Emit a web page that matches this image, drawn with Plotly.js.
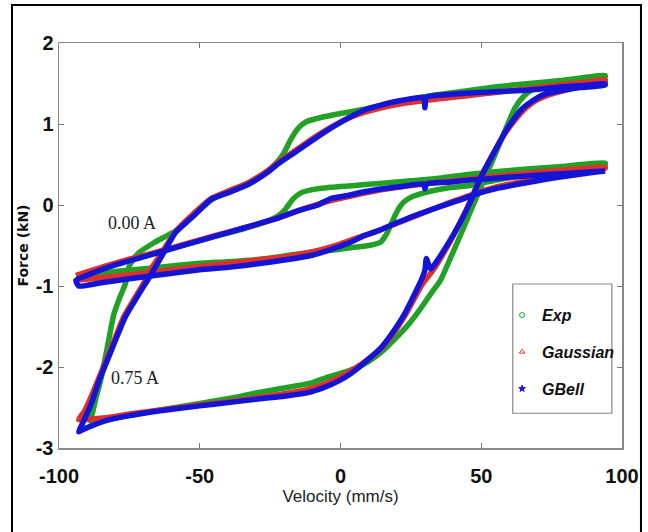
<!DOCTYPE html>
<html>
<head>
<meta charset="utf-8">
<script src="https://cdn.plot.ly/plotly-3.0.1.min.js"></script>
<style>
html,body{margin:0;padding:0;background:#fff;}
#chart{width:648px;height:532px;}
</style>
</head>
<body>
<div id="chart"></div>
<script>
// ---------- Data: 0.75 A loop ----------
const expX075 = [-88.8,-88,-87,-85.3,-82.9,-80.6,-78.5,-76.4,-75,-72,-66,-58.6,-52,-46,-40,-33,-26,-22.5,-20,-17.5,-15,-12,-7,0,8,20,32,45,55.6,67,79,88,94,
  94,85,75,68,65,62,58,55,51,47,43,39,35.5,32,28,24,20,15,10,5,0,-5,-10.7,-20,-30,-38,-50,-64,-75,-82,-86,-88.8];
const expY075 = [-2.67,-2.55,-2.4,-2.18,-1.77,-1.36,-1.15,-0.97,-0.75,-0.6,-0.46,-0.32,-0.12,0.06,0.17,0.27,0.42,0.53,0.65,0.82,0.95,1.03,1.08,1.13,1.18,1.27,1.35,1.41,1.46,1.5,1.54,1.58,1.6,
  1.58,1.53,1.47,1.42,1.34,1.2,0.88,0.63,0.31,-0.01,-0.34,-0.66,-0.93,-1.1,-1.3,-1.48,-1.63,-1.8,-1.93,-2.02,-2.08,-2.13,-2.2,-2.26,-2.32,-2.38,-2.45,-2.53,-2.6,-2.64,-2.67,-2.67];

const gauX075 = [-93,-91,-89,-86,-81.5,-77,-70,-67.5,-63,-58.6,-52,-46,-40,-33,-26,-22.5,-16.6,-9.5,-2.4,4.7,10,20,30,40,50,60,70,80,88,94,
  94,85,76,70,66,62,58,54,50,46.5,43,38.5,33,29,23,18.5,14.5,10,5,0,-5,-12,-20,-28,-40,-50,-64,-75,-82,-88,-93];
const gauY075 = [-2.65,-2.55,-2.4,-2.15,-1.77,-1.38,-0.97,-0.8,-0.56,-0.33,-0.1,0.08,0.17,0.27,0.42,0.52,0.66,0.83,0.98,1.1,1.16,1.24,1.29,1.33,1.37,1.41,1.45,1.49,1.52,1.55,
  1.52,1.46,1.38,1.3,1.2,1.05,0.86,0.62,0.36,0.08,-0.18,-0.48,-0.8,-0.98,-1.36,-1.6,-1.77,-1.9,-2.02,-2.12,-2.2,-2.28,-2.33,-2.37,-2.43,-2.47,-2.53,-2.58,-2.62,-2.64,-2.65];

const gbeX075 = [-93,-91,-88.5,-85.9,-81.1,-76.4,-69.3,-67.5,-63,-58.6,-52,-46,-40,-33,-26,-22.5,-16.6,-9.5,-2.4,4.7,8.3,14,20,27,29.5,30,30.5,37,44,56,67,79,88,94,
  94,85,78,72,68,64,59,54.4,49.6,46,42.6,37.8,32,30.5,30,28.4,22.5,18,14.2,10,6,2,-3.5,-10.7,-20,-28,-40,-50,-64,-75,-82,-88,-92,-93];
const gbeY075 = [-2.8,-2.65,-2.45,-2.18,-1.77,-1.38,-0.97,-0.87,-0.6,-0.34,-0.13,0.07,0.15,0.25,0.4,0.5,0.64,0.81,0.97,1.11,1.17,1.23,1.28,1.32,1.33,1.2,1.33,1.36,1.38,1.4,1.42,1.46,1.48,1.5,
  1.48,1.45,1.41,1.36,1.28,1.17,0.93,0.64,0.32,0.03,-0.21,-0.5,-0.79,-0.66,-0.8,-0.95,-1.36,-1.6,-1.77,-1.9,-2.02,-2.12,-2.22,-2.31,-2.36,-2.39,-2.44,-2.48,-2.54,-2.6,-2.65,-2.72,-2.78,-2.8];

// ---------- Data: 0.00 A loop ----------
const expX000 = [-93,-85,-75,-65,-55,-45,-35,-26,-22,-19.5,-17,-14,-10,-3.5,5,15,25,35,46,55,65,80,94,
  94,80,62.7,50,46,38,31.9,26,23,21.3,19.5,17.7,16,14.2,10,3,-3.5,-10,-20,-28.4,-40,-50,-65,-80,-93];
const expY000 = [-0.87,-0.78,-0.68,-0.58,-0.49,-0.39,-0.3,-0.2,-0.13,-0.05,0.07,0.15,0.19,0.22,0.24,0.27,0.3,0.33,0.38,0.41,0.44,0.48,0.52,
  0.49,0.42,0.35,0.27,0.24,0.21,0.17,0.11,0.05,-0.01,-0.12,-0.26,-0.38,-0.46,-0.5,-0.53,-0.56,-0.58,-0.63,-0.67,-0.7,-0.72,-0.77,-0.82,-0.87];

const gauX000 = [-94,-85,-75,-65,-55,-45,-35,-25,-15,-5,5,15,25,35,46,60,75,94,
  94,80,65,55,46,38,30,22,14,8,0,-8,-20,-35,-50,-65,-80,-94];
const gauY000 = [-0.87,-0.77,-0.67,-0.58,-0.48,-0.38,-0.29,-0.19,-0.07,0.04,0.12,0.19,0.24,0.28,0.32,0.37,0.42,0.47,
  0.45,0.38,0.29,0.22,0.12,0.02,-0.09,-0.2,-0.31,-0.38,-0.48,-0.56,-0.64,-0.7,-0.76,-0.82,-0.88,-0.93];

const gbeX000 = [-94,-88,-80,-70,-60,-50,-40,-30,-22,-15,-8,-3.5,3,8,15,22,29.5,30,30.5,38,46,55,62,75,85,94,
  94,85,75,62,55,49.6,41.4,32,25,20,14,8.3,3,-3.5,-10,-20,-28,-40,-50,-64,-75,-85,-93,-94];
const gbeY000 = [-0.93,-0.84,-0.74,-0.64,-0.54,-0.44,-0.34,-0.24,-0.16,-0.07,0.0,0.08,0.12,0.16,0.2,0.23,0.26,0.2,0.26,0.28,0.31,0.33,0.35,0.38,0.4,0.42,
  0.42,0.38,0.33,0.25,0.2,0.15,0.05,-0.06,-0.15,-0.22,-0.31,-0.38,-0.47,-0.55,-0.62,-0.68,-0.72,-0.77,-0.8,-0.86,-0.91,-0.96,-1.0,-0.93];

const seriesNames = ['Exp','Gaussian','GBell'];
const loopLabels = ['0.00 A','0.75 A'];
const labelX = [-74,-73];
const labelY = [-0.225,-2.13];

const xTickVals = [-100,-50,0,50,100];
const yTickVals = [-3,-2,-1,0,1,2];

// ---------- Styles ----------
const colors = ['#23a127','#e0302c','#1414d6'];
const symbols = ['circle-open','triangle-up-open','star'];

const loops = [
  [[expX075,expY075],[gauX075,gauY075],[gbeX075,gbeY075]],
  [[expX000,expY000],[gauX000,gauY000],[gbeX000,gbeY000]]
];

const traces = [];
for (let s = 0; s < 3; s++) {
  for (let l = 0; l < 2; l++) {
    traces.push({
      x: loops[l][s][0], y: loops[l][s][1],
      type: 'scatter', mode: 'lines',
      line: {color: colors[s], width: 5.5, shape: 'spline', smoothing: 0.5},
      showlegend: false, hoverinfo: 'skip'
    });
  }
}
for (let s = 0; s < 3; s++) {
  traces.push({
    x: [null], y: [null], type: 'scatter', mode: 'markers',
    name: seriesNames[s], legendgroup: 'g' + s,
    marker: {symbol: symbols[s], size: 5, color: colors[s], line: {color: colors[s], width: 1}}
  });
}

const tickFont = {family: '"Liberation Sans Narrow", "Liberation Sans", Arial, sans-serif', size: 20, color: '#111', weight: 'bold'};

const layout = {
  width: 648, height: 532,
  margin: {l: 59, r: 26, t: 43, b: 84},
  paper_bgcolor: '#fff', plot_bgcolor: '#fff',
  showlegend: true,
  legend: {
    x: 0.787, y: 0.37, xanchor: 'left', yanchor: 'top',
    borderwidth: 0, bgcolor: 'rgba(0,0,0,0)', itemwidth: 30,
    font: {family: '"Liberation Sans", Arial, sans-serif', size: 16, color: '#111', weight: 'bold', style: 'italic'},
    traceorder: 'grouped', tracegroupgap: 13
  },
  xaxis: {
    range: [-100, 100], tickvals: xTickVals, ticktext: xTickVals.map(String),
    ticks: 'inside', ticklen: 5, tickcolor: '#777', mirror: 'ticks',
    showline: true, linecolor: '#888', linewidth: 1.5, ticklabelstandoff: 9,
    showgrid: false, zeroline: false, tickfont: tickFont,
    title: {text: 'Velocity (mm/s)', font: {family: '"Liberation Sans Narrow", "Liberation Sans", Arial, sans-serif', size: 17, color: '#222'}, standoff: 4}
  },
  yaxis: {
    range: [-3, 2], tickvals: yTickVals, ticktext: yTickVals.map(String),
    ticks: 'inside', ticklen: 5, tickcolor: '#777', mirror: 'ticks',
    showline: true, linecolor: '#888', linewidth: 1.5,
    showgrid: false, zeroline: false, tickfont: tickFont,
    title: {text: 'Force (kN)', font: {family: '"DejaVu Sans", Arial, sans-serif', size: 14, color: '#111', weight: 'bold'}, standoff: 4}
  },
  annotations: loopLabels.map((t, i) => ({
    x: labelX[i], y: labelY[i], xref: 'x', yref: 'y', text: t, showarrow: false,
    font: {family: '"Liberation Serif", "DejaVu Serif", serif', size: 18, color: '#222'}
  })),
  shapes: [
    {
      type: 'rect', xref: 'paper', yref: 'paper',
      x0: -0.0835, x1: 1.0337, y0: -0.25, y1: 1.0938,
      line: {color: '#000', width: 2}, fillcolor: 'rgba(0,0,0,0)'
    },
    {
      type: 'rect', xref: 'paper', yref: 'paper', layer: 'above',
      x0: 0.806, x1: 0.982, y0: 0.0858, y1: 0.405,
      line: {color: '#888', width: 1.2}, fillcolor: '#fff'
    }
  ]
};

Plotly.newPlot('chart', traces, layout, {displayModeBar: false, staticPlot: true});
</script>
</body>
</html>
